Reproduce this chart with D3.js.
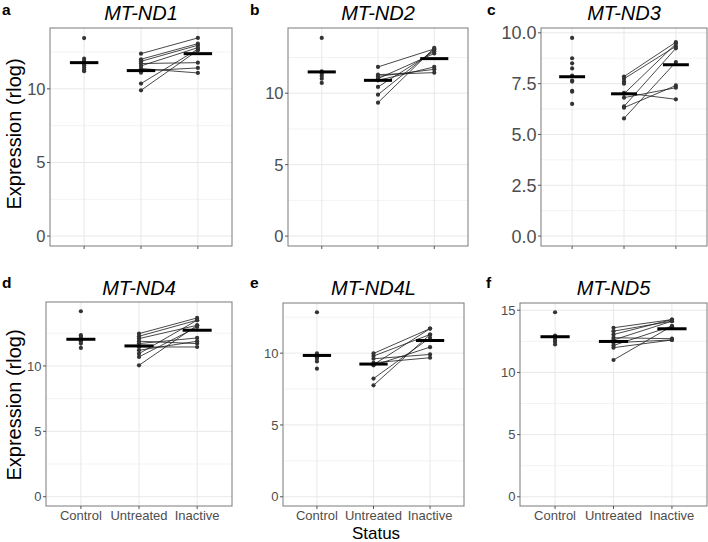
<!DOCTYPE html>
<html>
<head>
<meta charset="utf-8">
<script src="https://cdn.jsdelivr.net/npm/d3@7"></script>
<style>
body { margin: 0; background: #fff; }
text { font-family: "Liberation Sans", Arial, sans-serif; }
</style>
</head>
<body>
<div id="chart"></div>
<script>
var statuses = ["Control", "Untreated", "Inactive"]
var genes = ["MT-ND1", "MT-ND2", "MT-ND3", "MT-ND4", "MT-ND4L", "MT-ND5"]
var letters = ["a", "b", "c", "d", "e", "f"]

// control samples, then untreated and inactive (same index = same patient)
var nd1Control = [13.45, 12.05, 11.9, 11.8, 11.7, 11.6, 11.45, 11.3, 11.2]
var nd1Untreated = [12.39, 12.01, 11.87, 11.72, 11.56, 11.38, 11.22, 11.1, 10.36, 9.9]
var nd1Inactive = [13.46, 13.07, 12.96, 11.78, 12.8, 11.08, 11.42, null, 12.7, 12.62]
var nd1Means = [11.78, 11.24, 12.39]

var nd2Control = [13.87, 11.53, 11.45, 11.37, 11.21, 11.02, 10.72]
var nd2Untreated = [11.84, 11.3, 11.18, 11.02, 10.9, 10.44, 9.9, 9.34]
var nd2Inactive = [13.1, 11.44, 11.67, 12.78, 11.84, 12.94, 13.05, 13.17]
var nd2Means = [11.49, 10.9, 12.42]

var nd3Control = [9.75, 8.75, 8.5, 8.25, 7.9, 7.65, 7.6, 7.15, 7.1, 6.5]
var nd3Untreated = [7.85, 7.74, 7.61, 7.5, 7.0, 6.38, 5.79, 6.32, 6.81, 7.05]
var nd3Inactive = [9.54, 9.34, null, null, 9.46, 9.24, 8.56, 7.41, 7.3, 6.73]
var nd3Means = [7.84, 7.0, 8.43]

var nd4Control = [14.18, 12.35, 12.22, 12.09, 11.95, 11.89, 11.71, 11.38]
var nd4Untreated = [12.47, 12.27, 12.09, 11.89, 11.71, 11.45, 11.2, 10.94, 10.69, 10.05]
var nd4Inactive = [13.67, 13.5, 13.11, 11.71, 12.14, 11.45, 11.89, 13.5, 12.98, 13.11]
var nd4Means = [12.04, 11.53, 12.73]

var nd4lControl = [12.85, 9.98, 9.9, 9.8, 9.7, 9.61, 9.42, 8.92]
var nd4lUntreated = [9.98, 9.8, 9.61, 9.33, 9.15, 9.2, 8.23, 7.76]
var nd4lInactive = [11.71, 11.3, 9.91, 9.68, 10.42, 11.71, 11.07, 11.3]
var nd4lMeans = [9.84, 9.24, 10.88]

var nd5Control = [14.84, 12.97, 12.85, 12.79, 12.61, 12.45, 12.25]
var nd5Untreated = [13.59, 13.32, 13.05, 12.79, 12.61, 12.39, 12.17, 11.99, 11.0]
var nd5Inactive = [14.25, 14.12, 14.25, 12.71, 14.12, 12.61, 13.72, 12.61, 13.72]
var nd5Means = [12.87, 12.49, 13.51]

var ticks5 = [0, 5, 10]
var ticks25 = [0, 2.5, 5, 7.5, 10]
var ticks15 = [0, 5, 10, 15]

var controls = [nd1Control, nd2Control, nd3Control, nd4Control, nd4lControl, nd5Control]
var untreated = [nd1Untreated, nd2Untreated, nd3Untreated, nd4Untreated, nd4lUntreated, nd5Untreated]
var inactive = [nd1Inactive, nd2Inactive, nd3Inactive, nd4Inactive, nd4lInactive, nd5Inactive]
var means = [nd1Means, nd2Means, nd3Means, nd4Means, nd4lMeans, nd5Means]
var yTicks = [ticks5, ticks5, ticks25, ticks5, ticks5, ticks15]

// panel boxes [left, right, top, bottom]
var boxes = [
  [50, 232, 28, 246], [288, 468, 28, 246], [541, 707, 28, 246],
  [46, 232, 302, 506], [283, 464, 303, 506], [520, 707, 303, 506]
]
var letterPos = [[2, 14.5], [250, 15], [487, 14.5], [2, 288], [250, 288], [486, 288]]
var tickFonts = [16.5, 16.5, 18, 13, 13, 13]

var W = 708, H = 542
var svg = d3.select('#chart').append('svg').attr('width', W).attr('height', H)

genes.forEach(function (gene, i) {
  var b = boxes[i]
  var top = i < 3
  var g = svg.append('g')

  var all = controls[i].concat(untreated[i], inactive[i].filter(function (v) { return v != null }))
  var ymax = d3.max(all), ymin = Math.min(0, d3.min(all))
  var pad = (ymax - ymin) * 0.05
  var y = d3.scaleLinear().domain([ymin - pad, ymax + pad]).range([b[3], b[2]])
  var x = d3.scalePoint().domain(statuses).range([b[0], b[1]]).padding(0.6)
  var step = x.step()

  // grid
  var tk = yTicks[i]
  var d = tk[1] - tk[0]
  var minor = tk.map(function (t) { return t + d / 2 }).filter(function (t) { return t < y.domain()[1] })
  g.selectAll('.minor').data(minor).enter().append('line')
    .attr('x1', b[0]).attr('x2', b[1]).attr('y1', function (t) { return y(t) }).attr('y2', function (t) { return y(t) })
    .attr('stroke', '#f3f3f3').attr('stroke-width', 1)
  g.selectAll('.major').data(tk).enter().append('line')
    .attr('x1', b[0]).attr('x2', b[1]).attr('y1', function (t) { return y(t) }).attr('y2', function (t) { return y(t) })
    .attr('stroke', '#e8e8e8').attr('stroke-width', 1)
  g.selectAll('.vgrid').data(statuses).enter().append('line')
    .attr('x1', function (s) { return x(s) }).attr('x2', function (s) { return x(s) })
    .attr('y1', b[2]).attr('y2', b[3])
    .attr('stroke', '#e8e8e8').attr('stroke-width', 1)

  // paired lines
  var pairs = untreated[i].map(function (u, k) { return [u, inactive[i][k]] }).filter(function (p) { return p[1] != null })
  g.selectAll('.pair').data(pairs).enter().append('line')
    .attr('x1', x('Untreated')).attr('x2', x('Inactive'))
    .attr('y1', function (p) { return y(p[0]) }).attr('y2', function (p) { return y(p[1]) })
    .attr('stroke', '#1a1a1a').attr('stroke-width', 0.8)

  // points
  var pts = []
  controls[i].forEach(function (v) { pts.push(['Control', v]) })
  untreated[i].forEach(function (v) { pts.push(['Untreated', v]) })
  inactive[i].forEach(function (v) { if (v != null) pts.push(['Inactive', v]) })
  g.selectAll('.pt').data(pts).enter().append('circle')
    .attr('cx', function (p) { return x(p[0]) }).attr('cy', function (p) { return y(p[1]) })
    .attr('r', 2.1).attr('fill', '#333')

  // mean bars
  g.selectAll('.mean').data(means[i]).enter().append('line')
    .attr('x1', function (m, k) { return x(statuses[k]) - step * 0.25 })
    .attr('x2', function (m, k) { return x(statuses[k]) + step * 0.25 })
    .attr('y1', function (m) { return y(m) }).attr('y2', function (m) { return y(m) })
    .attr('stroke', '#000').attr('stroke-width', 3)

  // border
  g.append('rect').attr('x', b[0]).attr('y', b[2]).attr('width', b[1] - b[0]).attr('height', b[3] - b[2])
    .attr('fill', 'none').attr('stroke', '#7a7a7a').attr('stroke-width', 1)

  // y axis ticks + labels
  var fmt = i == 2 ? d3.format('.1f') : d3.format('d')
  g.selectAll('.ytick').data(tk).enter().append('line')
    .attr('x1', b[0] - 3).attr('x2', b[0]).attr('y1', function (t) { return y(t) }).attr('y2', function (t) { return y(t) })
    .attr('stroke', '#555')
  g.selectAll('.ylab').data(tk).enter().append('text')
    .attr('x', b[0] - 4.5).attr('y', function (t) { return y(t) }).attr('dy', '0.36em')
    .attr('text-anchor', 'end').attr('font-size', tickFonts[i]).attr('fill', '#4d4d4d')
    .text(function (t) { return fmt(t) })

  // x axis ticks
  g.selectAll('.xtick').data(statuses).enter().append('line')
    .attr('x1', function (s) { return x(s) }).attr('x2', function (s) { return x(s) })
    .attr('y1', b[3]).attr('y2', b[3] + 3).attr('stroke', '#555')
  if (!top) {
    g.selectAll('.xlab').data(statuses).enter().append('text')
      .attr('x', function (s) { return x(s) }).attr('y', b[3] + 14)
      .attr('text-anchor', 'middle').attr('font-size', 13).attr('fill', '#4d4d4d')
      .text(function (s) { return s })
  }

  // title + letter
  g.append('text').attr('x', (b[0] + b[1]) / 2).attr('y', top ? 19.5 : 295)
    .attr('text-anchor', 'middle').attr('font-size', 20).attr('font-style', 'italic')
    .text(gene)
  g.append('text').attr('x', letterPos[i][0]).attr('y', letterPos[i][1])
    .attr('font-size', 15.5).attr('font-weight', 'bold').text(letters[i])
})

svg.append('text').attr('transform', 'translate(20.5,134) rotate(-90)')
  .attr('text-anchor', 'middle').attr('font-size', 20).text('Expression (rlog)')
svg.append('text').attr('transform', 'translate(20.5,405) rotate(-90)')
  .attr('text-anchor', 'middle').attr('font-size', 20).text('Expression (rlog)')
svg.append('text').attr('x', 376).attr('y', 538.5)
  .attr('text-anchor', 'middle').attr('font-size', 17).text('Status')
</script>
</body>
</html>
